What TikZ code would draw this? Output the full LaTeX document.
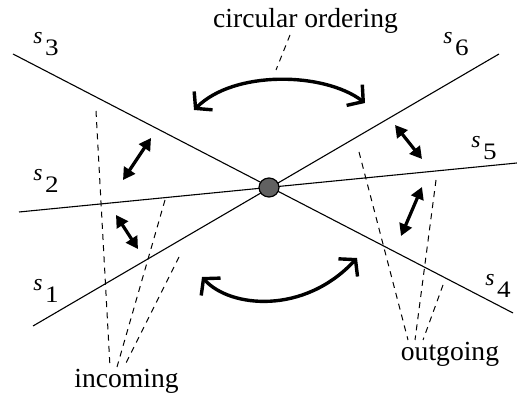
\documentclass[tikz,border=0pt]{standalone}
\usepackage{fontspec}
\usepackage{graphicx}
\setmainfont{Liberation Serif}
\usetikzlibrary{arrows.meta,shapes.geometric}
\newcommand\slab[1]{\raisebox{6.2pt}{\textit{s}}\kern1.3pt\scalebox{1.15}[1]{#1}}
\tikzset{
  seg/.style={line width=0.55pt},
  dsh/.style={line width=0.5pt, dash pattern=on 3pt off 2.6pt},
  swing/.style={line width=1.7pt, {Straight Barb[length=5.5pt,width=13pt,line width=1.7pt]}-{Straight Barb[length=5.5pt,width=13pt,line width=1.7pt]}},
  dbl/.style={line width=1.6pt, {Triangle[length=6pt,width=6.5pt]}-{Triangle[length=6pt,width=6.5pt]}},
  lab/.style={anchor=base west, inner sep=0pt, font=\fontsize{11.8}{13}\selectfont},
  txt/.style={anchor=base, inner sep=0pt, font=\fontsize{13.8}{16}\selectfont}
}
\begin{document}
\begin{tikzpicture}[x=0.5pt,y=-0.5pt]
\useasboundingbox (0,0) rectangle (517,399);
% line ends
\coordinate (e3) at (13,54);
\coordinate (e4) at (513,313);
\coordinate (e6) at (499,54);
\coordinate (e1) at (33,326);
\coordinate (e2) at (19,212);
\coordinate (e5) at (517,163);
\draw[seg] (e3) -- (e4);
\draw[seg] (e1) -- (e6);
\draw[seg] (e2) -- (e5);
\node[ellipse, draw, fill=black!62, line width=0.6pt, minimum width=20pt*0.5, minimum height=19pt*0.5, inner sep=0pt] (c) at (269,187.5) {};
% labels
\node[lab] (l3) at (33,56) {\slab{3}};
\node[lab] (l2) at (33,193) {\slab{2}};
\node[lab] (l1) at (33,303) {\slab{1}};
\node[lab] (l6) at (443,56) {\slab{6}};
\node[lab] (l5) at (471,160) {\slab{5}};
\node[lab] (l4) at (485,298) {\slab{4}};
% texts
\node[txt] (circ) at (305.5,28) {circular ordering};
\node[txt] (inc) at (126.5,387) {incoming};
\node[txt] (out) at (450,360) {outgoing};
% dashed pointers
\coordinate (cd1) at (290,35);
\coordinate (cd2) at (276,70);
\draw[dsh] (cd1) -- (cd2);
\coordinate (i1a) at (96,111);  \coordinate (i1b) at (110,367);
\coordinate (i2a) at (165,200); \coordinate (i2b) at (117,367);
\coordinate (i3a) at (179,257); \coordinate (i3b) at (124,367);
\draw[dsh] (i1a) -- (i1b);
\draw[dsh] (i2a) -- (i2b);
\draw[dsh] (i3a) -- (i3b);
\coordinate (o1a) at (359,152); \coordinate (o1b) at (408,340);
\coordinate (o2a) at (436,180); \coordinate (o2b) at (415,340);
\coordinate (o3a) at (443,285); \coordinate (o3b) at (423,340);
\draw[dsh] (o1a) -- (o1b);
\draw[dsh] (o2a) -- (o2b);
\draw[dsh] (o3a) -- (o3b);
% curved arrows
\coordinate (ta) at (194,110); \coordinate (tb) at (365,103);
\draw[swing] (ta) .. controls (234,70) and (324,72) .. (tb);
\coordinate (ba) at (202,277); \coordinate (bb) at (357,258);
\draw[swing] (ba) .. controls (230,308) and (304,315) .. (bb);
% double arrows
\coordinate (a1) at (123,180); \coordinate (a2) at (151,138);
\draw[dbl] (a1) -- (a2);
\coordinate (b1) at (116,215); \coordinate (b2) at (138,249);
\draw[dbl] (b1) -- (b2);
\coordinate (r1) at (395,125); \coordinate (r2) at (422,159);
\draw[dbl] (r1) -- (r2);
\coordinate (q1) at (422,187); \coordinate (q2) at (401,236);
\draw[dbl] (q1) -- (q2);
\end{tikzpicture}
\end{document}
